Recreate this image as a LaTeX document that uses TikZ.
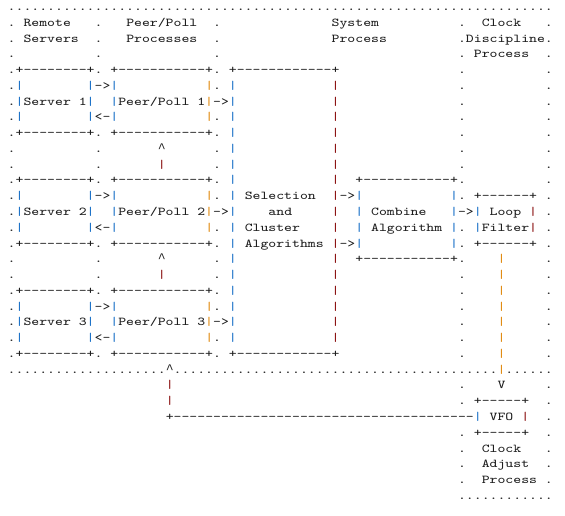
\documentclass[tikz,border=0pt]{standalone}
\usepackage{fontspec}
\newfontfamily\caretfont{Liberation Mono}
\frenchspacing
\definecolor{ink}{RGB}{30,30,30}
\definecolor{barblue}{RGB}{30,115,200}
\definecolor{barred}{RGB}{140,20,20}
\definecolor{barorange}{RGB}{225,140,20}
\tikzset{asc/.style={anchor=base west, inner sep=0pt, outer sep=0pt, text=ink,
    font=\ttfamily\fontsize{9}{11}\selectfont}}
\newlength\cwd
% one run of characters at (column,line)
\def\asc(#1,#2)#3{\node[asc] (a#1-#2) at ({7.75+7.9*#1},{10.5+15.77*#2}) {\scalebox{\ascx}[1]{#3}};}
% a caret at (column,line)
\def\ascup(#1,#2){\node[asc,font=\caretfont\fontsize{9.875}{11}\selectfont] (a#1-#2) at ({7.75+7.9*#1},{10.5+15.77*#2}) {\char94};}
\def\bB{\textcolor{barblue}{|}}
\def\bR{\textcolor{barred}{|}}
\def\bO{\textcolor{barorange}{|}}

\begin{document}
\settowidth\cwd{\ttfamily\fontsize{9}{11}\selectfont 0}%
\pgfmathsetmacro\ascx{5.925/\cwd}%
\begin{tikzpicture}[x=0.75pt, y=-0.75pt]
			%%%%% START %%%%%
			\useasboundingbox (0,0) rectangle (565,516);
			
			\asc(0,0){.....................................................................}
			
			\asc(0,1){.} \asc(2,1){Remote} \asc(11,1){.} \asc(15,1){Peer/Poll} \asc(26,1){.} \asc(41,1){System} \asc(60,1){Clock}
			\asc(0,2){.} \asc(2,2){Servers} \asc(11,2){.} \asc(15,2){Processes} \asc(26,2){.} \asc(41,2){Process} \asc(57,2){.Discipline.}
			\asc(0,3){.} \asc(11,3){.} \asc(26,3){.} \asc(59,3){Process}
			
			\foreach \i in {1,3,4,5,6,7,8,9,10,17,18,19,20,21,22,24,25,27,28,29,30}{
				\asc(57,\i){.}
			}
			\foreach \i in {1,3,4,...,22,24,25,...,30}{
				\asc(68,\i){.}
			}
			
			\asc(0,4){.+--------+.} \asc(13,4){+-----------+.} \asc(28,4){+------------+}
			\asc(0,5){.\bB} \asc(10,5){\bB->\bB} \asc(25,5){\bO.} \asc(28,5){\bB} \asc(41,5){\bR}
			\asc(0,6){.\bB Server 1\bB} \asc(13,6){\bB Peer/Poll 1\bO->\bB} \asc(41,6){\bR}
			\asc(0,7){.\bB} \asc(10,7){\bB<-\bB} \asc(25,7){\bO.} \asc(28,7){\bB} \asc(41,7){\bR}
			\asc(0,8){.+--------+.} \asc(13,8){+-----------+.} \asc(28,8){\bB} \asc(41,8){\bR}
			
			\asc(0,9){.} \asc(11,9){.} \ascup(19,9) \asc(26,9){.} \asc(28,9){\bB} \asc(41,9){\bR}
			\asc(0,10){.} \asc(11,10){.} \asc(19,10){\bR} \asc(26,10){.} \asc(28,10){\bB} \asc(41,10){\bR}
			
			\asc(0,11){.+--------+.} \asc(13,11){+-----------+.} \asc(28,11){\bB} \asc(41,11){\bR} \asc(44,11){+-----------+.}
			\asc(0,12){.\bB} \asc(10,12){\bB->\bB} \asc(25,12){\bO.} \asc(28,12){\bB} \asc(30,12){Selection} \asc(41,12){\bR->\bB} \asc(56,12){\bB.} \asc(59,12){+------+}
			\asc(0,13){.\bB Server 2\bB} \asc(13,13){\bB Peer/Poll 2\bO->\bB} \asc(33,13){and} \asc(41,13){\bR} \asc(44,13){\bB} \asc(46,13){Combine} \asc(56,13){\bB->\bB} \asc(61,13){Loop} \asc(66,13){\bR}
			\asc(0,14){.\bB} \asc(10,14){\bB<-\bB} \asc(25,14){\bO.} \asc(28,14){\bB} \asc(30,14){Cluster} \asc(41,14){\bR} \asc(44,14){\bB} \asc(46,14){Algorithm} \asc(56,14){\bB.} \asc(59,14){\bB Filter\bR}
			\asc(0,15){.+--------+.} \asc(13,15){+-----------+.} \asc(28,15){\bB} \asc(30,15){Algorithms} \asc(41,15){\bR->\bB} \asc(56,15){\bB.} \asc(59,15){+------+}
			
			\asc(0,16){.} \asc(11,16){.} \ascup(19,16) \asc(26,16){.} \asc(28,16){\bB} \asc(41,16){\bR} \asc(44,16){+-----------+.} \asc(62,16){\bO}
			\asc(0,17){.} \asc(11,17){.} \asc(19,17){\bR} \asc(26,17){.} \asc(28,17){\bB} \asc(41,17){\bR} \asc(62,17){\bO}
			
			\asc(0,18){.+--------+.} \asc(13,18){+-----------+.} \asc(28,18){\bB} \asc(41,18){\bR} \asc(62,18){\bO}
			\asc(0,19){.\bB} \asc(10,19){\bB->\bB} \asc(25,19){\bO.} \asc(28,19){\bB} \asc(41,19){\bR} \asc(62,19){\bO}
			\asc(0,20){.\bB Server 3\bB} \asc(13,20){\bB Peer/Poll 3\bO->\bB} \asc(41,20){\bR} \asc(62,20){\bO}
			\asc(0,21){.\bB} \asc(10,21){\bB<-\bB} \asc(25,21){\bO.} \asc(28,21){\bB} \asc(41,21){\bR} \asc(62,21){\bO}
			\asc(0,22){.+--------+.} \asc(13,22){+-----------+.} \asc(28,22){+------------+} \asc(62,22){\bO}
			
			\asc(0,23){....................} \ascup(20,23) \asc(21,23){.........................................\bO......}
			
			% feedback to the VFO
			\asc(20,24){\bR} \asc(62,24){V}
			\asc(20,25){\bR} \asc(59,25){+-----+}
			\asc(20,26){+--------------------------------------\bB} \asc(61,26){VFO} \asc(65,26){\bR}
			\asc(59,27){+-----+}
			\asc(60,28){Clock}
			\asc(60,29){Adjust}
			\asc(60,30){Process}
			\asc(57,31){............}
			
			%%%%% END %%%%%
\end{tikzpicture}
\end{document}
